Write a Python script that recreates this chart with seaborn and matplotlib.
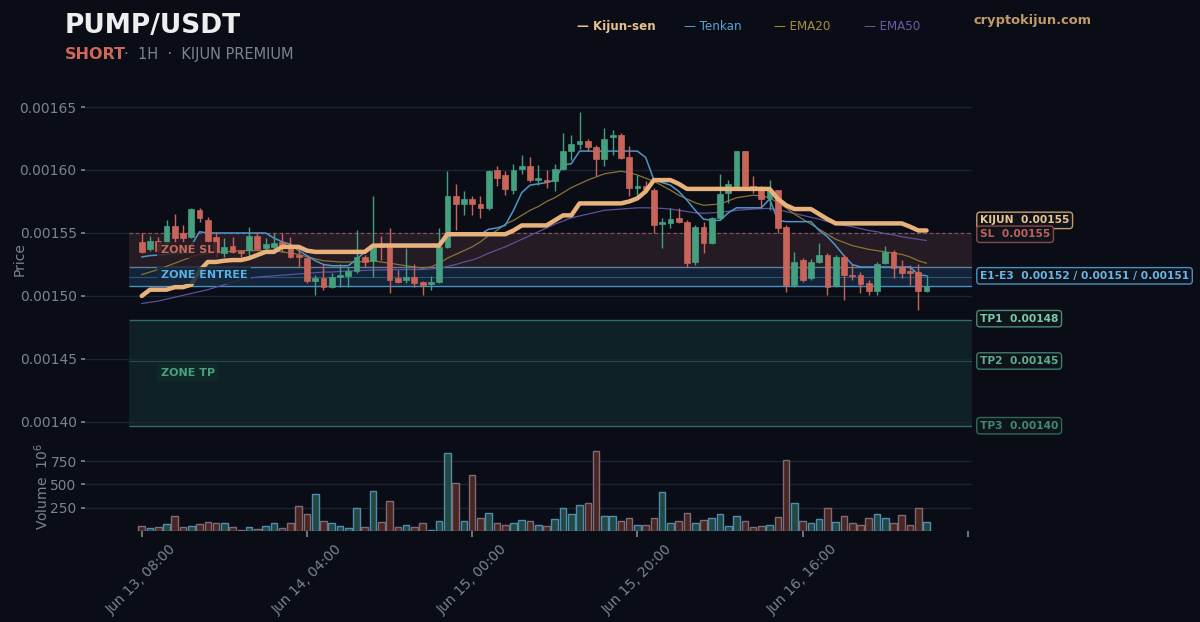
import numpy as np
import pandas as pd
import matplotlib
matplotlib.use("Agg")
import matplotlib.pyplot as plt
from matplotlib.ticker import FormatStrFormatter
import seaborn as sns

# prices in units of 1e-5 USDT, one entry per 1H candle (Jun 13 08:00 -> Jun 17 07:00)
open_e5 = [154.3, 153.7, 154.4, 154.2, 155.55, 155.0, 154.7, 156.8, 156.0, 154.7,
           153.4, 154.0, 153.6, 153.65, 154.8, 153.8, 153.9, 154.3, 153.97, 153.25,
           153.0, 151.2, 151.4, 150.74, 151.5, 151.6, 151.95, 153.1, 152.8, 153.9,
           153.9, 151.4, 151.27, 151.5, 151.1, 150.95, 151.1, 153.9, 157.9, 157.3,
           157.7, 157.3, 157.0, 160.0, 159.6, 158.4, 160.1, 160.3, 159.2, 159.2,
           159.1, 160.1, 161.5, 162.1, 162.3, 161.8, 160.9, 162.6, 162.8, 161.0,
           158.55, 158.7, 158.4, 155.7, 155.8, 156.2, 155.9, 152.7, 155.5, 154.2,
           156.2, 158.2, 158.7, 161.5, 158.7, 158.4, 157.8, 158.4, 155.45, 150.9,
           152.85, 151.4, 152.7, 153.25, 150.8, 153.1, 151.7, 151.7, 151.05, 150.4,
           152.6, 153.5, 152.3, 152.0, 151.9, 150.4]
high_e5 = [155.0, 154.8, 154.7, 156.0, 156.5, 155.6, 156.95, 156.95, 156.3, 155.1,
           154.6, 154.7, 153.65, 155.5, 155.0, 154.6, 155.0, 155.0, 154.7, 153.9,
           153.1, 151.7, 152.5, 151.8, 152.5, 152.3, 155.2, 153.25, 157.9, 154.8,
           155.4, 152.06, 153.8, 152.5, 151.2, 151.6, 155.4, 159.9, 158.9, 158.3,
           157.9, 157.9, 160.0, 160.3, 159.9, 160.5, 161.2, 161.06, 160.4, 160.0,
           160.5, 162.9, 162.8, 164.6, 162.5, 162.0, 163.3, 163.2, 162.9, 161.9,
           159.6, 159.1, 158.55, 156.2, 157.0, 157.0, 156.0, 155.6, 155.9, 156.3,
           159.7, 159.2, 161.5, 161.5, 159.5, 158.7, 159.2, 158.4, 155.6, 153.5,
           153.0, 152.9, 154.2, 153.4, 153.25, 153.25, 152.5, 151.9, 151.27, 152.7,
           154.0, 153.65, 152.85, 152.46, 152.5, 151.65]
low_e5 = [153.4, 153.6, 153.4, 154.0, 154.2, 154.3, 154.6, 155.9, 153.9, 153.1,
          153.1, 153.4, 153.1, 153.1, 153.65, 153.5, 153.65, 153.5, 153.0, 152.3,
          151.0, 150.1, 150.5, 150.6, 150.74, 150.74, 151.8, 152.3, 151.5, 152.85,
          150.2, 151.0, 151.0, 150.74, 150.1, 150.5, 151.0, 153.8, 155.2, 156.4,
          156.4, 156.2, 156.8, 158.7, 158.0, 158.1, 159.7, 159.07, 158.8, 158.55,
          158.3, 160.0, 160.8, 161.7, 161.5, 159.5, 160.3, 161.2, 160.9, 157.9,
          158.0, 158.3, 155.0, 153.8, 155.4, 155.8, 152.3, 152.46, 153.4, 154.1,
          156.0, 157.4, 158.7, 158.6, 158.15, 157.1, 156.8, 155.0, 150.35, 150.74,
          151.1, 151.27, 152.6, 150.1, 150.74, 149.7, 151.27, 150.2, 150.1, 150.1,
          152.5, 151.4, 151.4, 150.9, 148.9, 150.35]
close_e5 = [153.5, 154.4, 153.6, 155.55, 154.6, 154.6, 156.9, 156.2, 154.4, 153.5,
            153.9, 153.5, 153.4, 154.8, 153.7, 154.1, 154.2, 153.9, 153.1, 153.1,
            151.2, 151.4, 150.7, 151.5, 151.7, 151.95, 153.1, 152.7, 153.9, 153.85,
            151.3, 151.1, 151.5, 151.0, 150.9, 151.1, 153.9, 157.9, 157.3, 157.7,
            157.3, 157.0, 159.9, 159.4, 158.5, 160.0, 160.3, 159.2, 159.4, 159.07,
            160.1, 161.5, 162.1, 162.3, 161.8, 160.9, 162.5, 162.8, 160.95, 158.55,
            158.7, 158.5, 155.6, 155.9, 156.1, 155.9, 152.6, 155.5, 154.2, 156.2,
            158.1, 158.9, 161.5, 158.7, 158.4, 157.7, 158.4, 155.4, 150.9, 152.7,
            151.27, 152.7, 153.25, 150.74, 153.1, 151.7, 151.6, 150.95, 150.4, 152.5,
            153.5, 152.2, 151.85, 151.8, 150.4, 150.8]
# volume in millions
volume_m = [55, 33, 48, 74, 166, 48, 55, 78, 96, 89, 81, 41, 11, 48, 22, 55, 81, 33, 89, 266,
            188, 395, 111, 89, 55, 30, 251, 48, 428, 100, 321, 48, 66, 41, 89, 15, 111, 841, 520, 103,
            601, 144, 192, 89, 66, 89, 122, 107, 66, 52, 129, 251, 181, 280, 306, 863, 162, 162, 103, 144,
            66, 66, 137, 424, 89, 107, 192, 89, 122, 137, 188, 55, 166, 103, 41, 55, 66, 155, 768, 299,
            111, 89, 133, 244, 100, 166, 89, 66, 144, 181, 144, 89, 170, 66, 244, 100]

kijun_e5 = [150.0, 150.5, 150.5, 150.5, 150.7, 150.7, 150.9, 152.0, 152.7, 152.7,
            152.8, 152.85, 152.85, 153.0, 153.25, 153.5, 153.5, 153.9, 153.9, 153.9,
            153.6, 153.5, 153.5, 153.5, 153.5, 153.5, 153.5, 153.5, 154.0, 154.0,
            154.0, 154.0, 154.0, 154.0, 154.0, 154.0, 154.0, 154.9, 154.9, 154.9,
            154.9, 154.9, 154.9, 154.9, 154.9, 155.2, 155.6, 155.6, 155.6, 155.6,
            156.0, 156.4, 156.4, 157.35, 157.35, 157.35, 157.35, 157.35, 157.35, 157.5,
            157.75, 158.3, 159.2, 159.2, 159.2, 158.9, 158.5, 158.5, 158.5, 158.5,
            158.5, 158.5, 158.5, 158.5, 158.5, 158.5, 158.5, 157.7, 157.2, 156.9,
            156.9, 156.9, 156.5, 156.1, 155.76, 155.76, 155.76, 155.76, 155.76, 155.76,
            155.76, 155.76, 155.76, 155.5, 155.2, 155.2]
tenkan_e5 = [153.1, 153.2, 153.25, 153.3, 153.4, 153.4, 154.0, 155.1, 155.0, 155.0,
             155.0, 155.0, 155.0, 155.0, 155.0, 155.0, 154.6, 154.3, 154.1, 153.6,
             153.2, 152.8, 152.5, 152.4, 152.4, 152.4, 152.9, 153.5, 154.0, 154.1,
             154.1, 154.1, 154.1, 154.1, 154.1, 154.1, 154.1, 154.9, 154.9, 154.9,
             154.9, 154.9, 155.3, 155.4, 155.6, 156.8, 158.2, 158.8, 158.9, 159.0,
             159.2, 160.4, 160.5, 161.5, 161.5, 161.5, 161.5, 161.5, 161.5, 161.5,
             161.5, 161.0, 159.2, 159.0, 158.8, 158.3, 157.6, 156.8, 156.1, 156.0,
             156.0, 156.6, 157.0, 157.0, 157.0, 157.0, 157.7, 156.0, 155.9, 155.9,
             155.9, 155.9, 155.2, 154.7, 154.0, 153.2, 152.5, 152.3, 152.3, 152.3,
             152.3, 152.3, 152.3, 152.3, 151.7, 151.6]
ema20_e5 = [151.7, 151.9, 152.1, 152.35, 152.6, 152.85, 153.1, 153.3, 153.4, 153.45,
            153.5, 153.55, 153.6, 153.6, 153.6, 153.6, 153.6, 153.5, 153.4, 153.3,
            153.1, 152.95, 152.8, 152.75, 152.7, 152.7, 152.7, 152.75, 152.8, 152.7,
            152.6, 152.5, 152.4, 152.3, 152.2, 152.3, 152.6, 153.0, 153.3, 153.6,
            153.9, 154.3, 154.8, 155.2, 155.7, 156.0, 156.4, 156.8, 157.1, 157.5,
            157.8, 158.2, 158.6, 158.9, 159.2, 159.45, 159.7, 159.8, 159.9, 159.8,
            159.6, 159.35, 159.1, 158.75, 158.4, 158.0, 157.7, 157.4, 157.2, 157.25,
            157.3, 157.55, 157.8, 157.9, 158.0, 157.95, 157.8, 157.4, 157.0, 156.5,
            156.1, 155.7, 155.3, 154.9, 154.5, 154.25, 154.0, 153.85, 153.7, 153.6,
            153.5, 153.4, 153.3, 153.1, 152.8, 152.6]
ema50_e5 = [149.4, 149.5, 149.6, 149.75, 149.9, 150.05, 150.2, 150.35, 150.5, 150.7,
            150.9, 151.1, 151.3, 151.4, 151.5, 151.55, 151.6, 151.65, 151.7, 151.75,
            151.8, 151.85, 151.9, 151.9, 151.95, 151.98, 152.0, 152.03, 152.06, 152.07,
            152.08, 152.09, 152.1, 152.1, 152.1, 152.15, 152.2, 152.35, 152.5, 152.7,
            152.85, 153.1, 153.4, 153.65, 153.9, 154.2, 154.5, 154.8, 155.1, 155.4,
            155.7, 155.95, 156.2, 156.35, 156.5, 156.65, 156.8, 156.85, 156.9, 156.95,
            157.0, 157.0, 156.98, 156.95, 156.9, 156.8, 156.7, 156.6, 156.56, 156.6,
            156.65, 156.72, 156.8, 156.85, 156.9, 156.93, 156.95, 156.85, 156.7, 156.55,
            156.4, 156.25, 156.1, 155.9, 155.76, 155.6, 155.5, 155.35, 155.2, 155.1,
            154.95, 154.85, 154.7, 154.6, 154.5, 154.4]

# trade levels
sl_level = 0.00155
entry_levels = [0.0015228, 0.0015154, 0.001508]
tp_levels = [0.001481, 0.0014484, 0.001397]

tick_pos = [0, 20, 40, 60, 80, 100]
tick_labels = ['Jun 13, 08:00', 'Jun 14, 04:00', 'Jun 15, 00:00',
               'Jun 15, 20:00', 'Jun 16, 16:00', '']

bg = '#0a0d16'
grid = '#1b2433'
muted = '#7d838d'
up_c = '#45a07f'
down_c = '#c8645a'

sns.set_theme(style='dark', rc={'axes.facecolor': bg, 'figure.facecolor': bg,
                                'axes.edgecolor': bg, 'grid.color': grid,
                                'xtick.color': muted, 'ytick.color': muted,
                                'axes.labelcolor': muted, 'text.color': muted})
plt.rcParams['font.family'] = ['DejaVu Sans']

df = pd.DataFrame({
    'idx': np.arange(len(open_e5)),
    'open': np.array(open_e5) * 1e-5, 'high': np.array(high_e5) * 1e-5,
    'low': np.array(low_e5) * 1e-5, 'close': np.array(close_e5) * 1e-5,
    'volume': volume_m,
    'kijun': np.array(kijun_e5) * 1e-5, 'tenkan': np.array(tenkan_e5) * 1e-5,
    'ema20': np.array(ema20_e5) * 1e-5, 'ema50': np.array(ema50_e5) * 1e-5,
})
df['up'] = df['close'] >= df['open']

xmin, xmax = -6.87, 100.5
zone_x0 = -1.54

fig = plt.figure(figsize=(12, 6.22), dpi=100)
ax = fig.add_axes([0.0708, 0.3119, 0.7392, 0.5434])
axv = fig.add_axes([0.0708, 0.1463, 0.7392, 0.1415], sharex=ax)

# zones (drawn from the first candle area to the right edge)
ax.fill_between([zone_x0, xmax], entry_levels[0], sl_level, color='#251b24', lw=0, zorder=0)
ax.fill_between([zone_x0, xmax], entry_levels[2], entry_levels[0], color='#13243a', lw=0, zorder=0)
ax.fill_between([zone_x0, xmax], tp_levels[2], tp_levels[0], color='#0f2126', lw=0, zorder=0)
ax.hlines(sl_level, zone_x0, xmax, color='#b0565a', lw=0.9, ls=(0, (3, 2)), alpha=0.8, zorder=1)
ax.hlines(entry_levels[0], zone_x0, xmax, color='#5f7f98', lw=1.0, zorder=1)
ax.hlines(entry_levels[1], zone_x0, xmax, color='#2e5470', lw=0.8, zorder=1)
ax.hlines(entry_levels[2], zone_x0, xmax, color='#4a8fbe', lw=1.0, zorder=1)
ax.hlines(tp_levels[0], zone_x0, xmax, color='#2f6e5e', lw=1.0, zorder=1)
ax.hlines(tp_levels[1], zone_x0, xmax, color='#224e48', lw=0.8, zorder=1)
ax.hlines(tp_levels[2], zone_x0, xmax, color='#2f6e5e', lw=1.0, zorder=1)

# indicator lines
sns.lineplot(data=df, x='idx', y='ema50', ax=ax, color='#5e4f9c', lw=0.9, zorder=2)
sns.lineplot(data=df, x='idx', y='ema20', ax=ax, color='#8a7434', lw=0.9, zorder=2)
sns.lineplot(data=df, x='idx', y='tenkan', ax=ax, color='#4f95cc', lw=1.1, zorder=3)

# candles
colors = np.where(df['up'], up_c, down_c)
ax.vlines(df['idx'], df['low'], df['high'], colors=colors, lw=1.0, zorder=4)
body_bottom = np.minimum(df['open'], df['close'])
body_h = np.maximum((df['close'] - df['open']).abs(), 0.05e-5)
ax.bar(df['idx'], body_h, bottom=body_bottom, width=0.7, color=colors,
       edgecolor=colors, lw=0.5, zorder=5)

sns.lineplot(data=df, x='idx', y='kijun', ax=ax, color='#e8b27c', lw=3.2, zorder=6)

ax.set_xlim(xmin, xmax)
ax.set_ylim(0.0013952, 0.0016635)
ax.set_yticks([0.00140, 0.00145, 0.00150, 0.00155, 0.00160, 0.00165])
ax.yaxis.set_major_formatter(FormatStrFormatter('%.5f'))
ax.grid(axis='y', color=grid, lw=1.0)
ax.grid(axis='x', visible=False)
ax.tick_params(axis='x', bottom=False, labelbottom=False)
ax.tick_params(axis='y', left=True, length=3, color=muted, labelsize=10, pad=3)
ax.set_xlabel('')
ax.set_ylabel('Price', fontsize=10, color=muted)
ax.yaxis.set_label_coords(-0.066, 0.5)
for s in ax.spines.values():
    s.set_visible(False)

# zone labels
ax.text(2.3, 0.0015365, 'ZONE SL', color='#c46a5c', fontsize=8, fontweight='bold',
        va='center', zorder=7, bbox=dict(boxstyle='square,pad=0.3', fc='#2a1d25', ec='none', alpha=0.85))
ax.text(2.3, 0.0015165, 'ZONE ENTREE', color='#5ab0e6', fontsize=8, fontweight='bold',
        va='center', zorder=7, bbox=dict(boxstyle='square,pad=0.3', fc='#15283b', ec='none', alpha=0.85))
ax.text(2.3, 0.0014390, 'ZONE TP', color='#4aa07e', fontsize=8, fontweight='bold',
        va='center', zorder=7, bbox=dict(boxstyle='square,pad=0.3', fc='#0f2a27', ec='none', alpha=0.9))

# right side price tags
tags = [
    (0.0015600, 'KIJUN  0.00155', '#ecc48e', '#c79a66'),
    (0.0015490, 'SL  0.00155', '#c0605a', '#8a4a4c'),
    (0.0015160, 'E1-E3  0.00152 / 0.00151 / 0.00151', '#6ab4e8', '#4a90c0'),
    (0.0014820, 'TP1  0.00148', '#7acaa6', '#4a8a72'),
    (0.0014484, 'TP2  0.00145', '#5fae8c', '#3f7a66'),
    (0.0013970, 'TP3  0.00140', '#3f8a6c', '#2f6a56'),
]
for yv, txt, tc, ec in tags:
    ax.annotate(txt, xy=(1.009, yv), xycoords=('axes fraction', 'data'),
                color=tc, fontsize=7.7, fontweight='bold', va='center', ha='left',
                annotation_clip=False, zorder=8,
                bbox=dict(boxstyle='round,pad=0.3', fc='#0e131c', ec=ec, lw=1.0))

# volume
sns.barplot(data=df, x='idx', y='volume', ax=axv, native_scale=True, width=0.8,
            color=up_c, linewidth=1.0, zorder=2)
for patch, is_up in zip(axv.patches, df['up']):
    if is_up:
        patch.set_facecolor('#24473f')
        patch.set_edgecolor('#4d8db3')
    else:
        patch.set_facecolor('#4a2621')
        patch.set_edgecolor('#7d6c78')
axv.set_ylim(0, 946)
axv.set_yticks([250, 500, 750])
axv.grid(axis='y', color=grid, lw=1.0)
axv.grid(axis='x', visible=False)
axv.set_xticks(tick_pos)
axv.set_xticklabels(tick_labels, rotation=45, ha='center')
axv.set_xlim(xmin, xmax)
axv.tick_params(axis='x', bottom=True, length=4, color=muted, labelsize=10, pad=4)
axv.tick_params(axis='y', left=True, length=3, color=muted, labelsize=10, pad=3)
axv.set_xlabel('')
axv.set_ylabel('Volume  $10^{6}$', fontsize=10, color=muted)
axv.yaxis.set_label_coords(-0.038, 0.5)
for s in axv.spines.values():
    s.set_visible(False)

# header
fig.text(0.054, 0.958, 'PUMP/USDT', color='#eeeeee', fontsize=19, fontweight='bold', va='center')
fig.text(0.054, 0.912, 'SHORT', color='#d0665a', fontsize=11.5, fontweight='bold', va='center')
fig.text(0.1035, 0.912, '·  1H  ·  KIJUN PREMIUM', color=muted, fontsize=10.5, va='center')

legend_items = [(0.481, '— Kijun-sen', '#e6c08e', 'bold'),
                (0.570, '— Tenkan', '#5aa5d8', 'normal'),
                (0.645, '— EMA20', '#a88f3c', 'normal'),
                (0.720, '— EMA50', '#6a5ca8', 'normal')]
for xf, txt, c, w in legend_items:
    fig.text(xf, 0.958, txt, color=c, fontsize=8.6, fontweight=w, va='center')
fig.text(0.811, 0.967, 'cryptokijun.com', color='#c09a6a', fontsize=9.4, fontweight='bold', va='center')

fig.savefig('out.png', dpi=100, facecolor=bg)
